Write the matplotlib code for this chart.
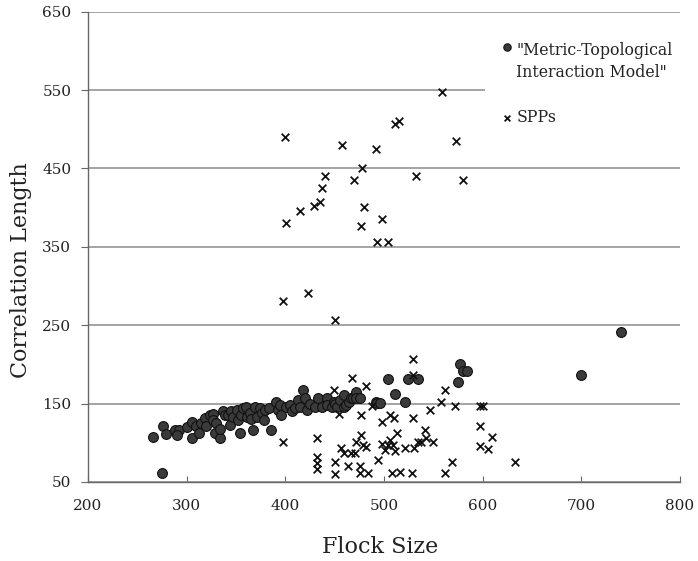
import matplotlib.pyplot as plt
from matplotlib.legend_handler import HandlerPathCollection

# "Metric-Topological Interaction Model" points (flock size, correlation length)
mt_size = [266, 275, 276, 279, 288, 292, 290, 300, 305, 305, 310, 313, 315, 319, 320,
           324, 327, 327, 329, 330, 334, 334, 337, 339, 342, 344, 345, 347, 351, 352,
           354, 355, 357, 360, 361, 364, 365, 367, 369, 371, 374, 376, 378, 379, 384,
           386, 391, 393, 395, 396, 401, 405, 407, 410, 413, 415, 418, 420, 422, 425,
           430, 433, 437, 442, 442, 447, 449, 450, 452, 455, 460, 460, 462, 465, 467,
           469, 472, 472, 476, 492, 493, 496, 504, 511, 521, 524, 535, 575, 577, 580,
           584, 700, 740]
mt_corr = [107, 61, 121, 111, 116, 116, 110, 120, 127, 106, 121, 112, 125, 131, 121,
           135, 137, 129, 112, 125, 106, 118, 140, 135, 135, 123, 140, 133, 142, 129,
           112, 135, 144, 145, 133, 138, 130, 116, 146, 133, 144, 138, 129, 142, 144,
           116, 152, 142, 148, 135, 146, 148, 140, 144, 155, 146, 167, 157, 142, 150,
           146, 157, 146, 157, 148, 146, 152, 150, 146, 155, 161, 146, 148, 152, 157,
           157, 165, 157, 157, 152, 151, 151, 181, 162, 152, 181, 181, 177, 201, 192,
           192, 186, 241]

# SPP points
spp_size = [400, 458, 492, 511, 515, 559, 573, 580, 533, 478, 470, 440, 437, 435, 429,
            415, 401, 480, 477, 498, 493, 504, 398, 423, 450,
            529, 529, 468, 482, 449, 454, 477, 488, 498, 506, 510, 513, 530, 547, 558,
            562, 572, 597, 600, 597, 610, 597, 606, 633, 569, 562, 450, 450, 457, 460,
            464, 467, 471, 472, 476, 476, 477, 479, 482, 484, 494, 498, 501, 504, 506,
            509, 511, 508, 516, 521, 528, 531, 535, 538, 542, 543, 550, 398, 432, 432,
            432, 432]
spp_corr = [490, 480, 475, 507, 511, 547, 485, 435, 440, 450, 435, 440, 425, 407, 402,
            396, 381, 401, 376, 386, 356, 356, 281, 291, 257,
            207, 187, 182, 172, 167, 137, 136, 147, 127, 135, 131, 112, 131, 142, 152,
            167, 147, 147, 147, 121, 107, 96, 92, 76, 76, 61, 75, 60, 93, 87,
            70, 87, 87, 101, 70, 61, 110, 97, 95, 61, 78, 99, 91, 97, 104,
            97, 89, 61, 63, 93, 61, 93, 101, 101, 116, 106, 101, 101, 106, 82,
            74, 66]

x_ticks = [200, 300, 400, 500, 600, 700, 800]
y_ticks = [50, 150, 250, 350, 450, 550, 650]

plt.rcParams['font.family'] = ['DejaVu Serif']

fig = plt.figure(figsize=(6.98, 5.61), dpi=100)
ax = fig.add_axes([0.126, 0.141, 0.848, 0.838])

ax.set_xlim(200, 800)
ax.set_ylim(50, 650)
ax.set_xticks(x_ticks)
ax.set_yticks(y_ticks)
ax.yaxis.grid(True, color='#8c8c8c', linewidth=1.1)
ax.set_axisbelow(True)

for s in ['top', 'right']:
    ax.spines[s].set_visible(False)
for s in ['left', 'bottom']:
    ax.spines[s].set_color('#666666')
    ax.spines[s].set_linewidth(1.0)

ax.tick_params(axis='x', direction='in', length=4, color='#666666',
               labelsize=11, pad=12, labelcolor='#222222')
ax.tick_params(axis='y', direction='out', length=5, color='#666666',
               labelsize=11, pad=7, labelcolor='#222222')

mt = ax.scatter(mt_size, mt_corr, s=50, c='#3a3a3a', edgecolors='#111111',
                linewidths=0.8, zorder=3, label='"Metric-Topological\nInteraction Model"')
ax.scatter(spp_size, spp_corr, s=30, marker='x', c='#111111', linewidths=1.3,
           zorder=3, label='SPPs')

ax.set_xlabel('Flock Size', fontsize=16, color='#222222')
ax.set_ylabel('Correlation Length', fontsize=16, color='#222222')
ax.xaxis.set_label_coords(0.493, -0.115)
ax.yaxis.set_label_coords(-0.095, 0.45)

leg = ax.legend(loc='upper left', bbox_to_anchor=(0.6706, 0.972), borderaxespad=0,
                frameon=True, fontsize=11.3, handlelength=0.6, handletextpad=0.3,
                labelspacing=1.8, borderpad=1.1, markerscale=0.75,
                handler_map={mt: HandlerPathCollection(yoffsets=[1.9])})
leg.get_frame().set_facecolor('white')
leg.get_frame().set_edgecolor('none')
leg.get_frame().set_alpha(1)
for t in leg.get_texts():
    t.set_color('#222222')
    t.set_linespacing(1.35)

plt.savefig('out.png', dpi=100)
